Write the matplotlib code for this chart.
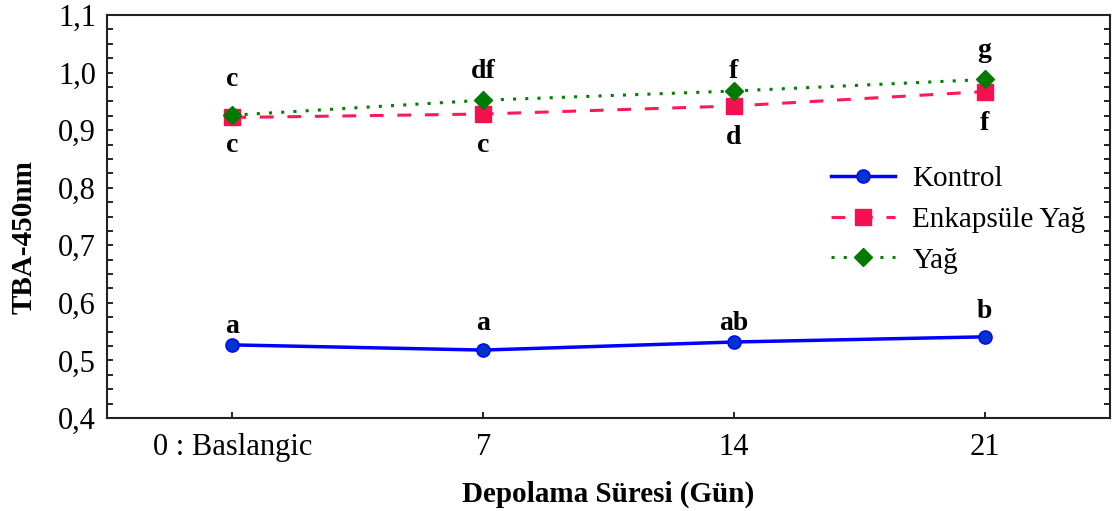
import numpy as np
import matplotlib
matplotlib.use("Agg")
import matplotlib.pyplot as plt
from matplotlib.ticker import MultipleLocator, FuncFormatter

plt.rcParams['font.family'] = ['Liberation Serif', 'DejaVu Serif']

# storage time groups and TBA absorbance values
days = ["0 : Baslangic", "7", "14", "21"]
kontrol = [0.527, 0.518, 0.532, 0.541]
enkapsule = [0.922, 0.928, 0.942, 0.967]
yag = [0.926, 0.952, 0.968, 0.988]

# significance letters for each group
kontrol_letters = ["a", "a", "ab", "b"]
enkapsule_letters = ["c", "c", "d", "f"]
yag_letters = ["c", "df", "f", "g"]

# letter offsets in pixels relative to the marker (baseline)
kontrol_off = [12, 20, 12, 19]
enkapsule_off = [-35, -38, -38, -38]
yag_off = [29, 22, 13, 22]

fig = plt.figure(figsize=(11.16, 5.11), dpi=100)
ax = fig.add_axes([0.0959, 0.182, 0.8987, 0.7886])

x = np.arange(len(days))
ax.plot(x, kontrol, color="#0000ff", lw=2.5, marker="o", ms=9.5,
        mfc="#0033cc", mec="#0000ff", label="Kontrol", zorder=3)
ax.plot(x, enkapsule, color="#ff1a55", lw=2.2, ls=(0, (4.5, 4.5)), marker="s",
        ms=11, mfc="#f5104f", mec="#f5104f", label="Enkapsüle Yağ", zorder=3)
ax.plot(x, yag, color="#008000", lw=2.2, ls=(0, (1, 3)), marker="D",
        ms=9.5, mfc="#007a00", mec="#007a00", label="Yağ", zorder=4)

for vals, letters, offs in [(kontrol, kontrol_letters, kontrol_off),
                            (enkapsule, enkapsule_letters, enkapsule_off),
                            (yag, yag_letters, yag_off)]:
    for xi, v, t, o in zip(x, vals, letters, offs):
        ax.annotate(t, (xi, v), xytext=(0, o), textcoords="offset pixels",
                    ha="center", va="baseline", fontsize=20,
                    fontweight="bold")

ax.set_xlim(-0.5, 3.5)
ax.set_ylim(0.4, 1.1)
ax.set_xticks(x)
ax.set_xticklabels(days)
ax.yaxis.set_major_locator(MultipleLocator(0.1))
ax.yaxis.set_minor_locator(MultipleLocator(0.025))
ax.yaxis.set_major_formatter(FuncFormatter(lambda v, p: f"{v:.1f}".replace(".", ",")))

ax.tick_params(axis="y", which="both", direction="in", length=4, width=1.2,
               right=True, labelsize=22, pad=8)
ax.tick_params(axis="x", direction="in", length=4, width=1.2, labelsize=22,
               pad=11)
for s in ax.spines.values():
    s.set_linewidth(1.5)
    s.set_color("#222222")

ax.set_xlabel("Depolama Süresi (Gün)", fontsize=21, fontweight="bold",
              labelpad=13)
ax.set_ylabel("TBA-450nm", fontsize=21, fontweight="bold")
ax.yaxis.set_label_coords(-0.069, 0.45)

ax.legend(loc="upper left", bbox_to_anchor=(0.71, 0.655), frameon=False,
          fontsize=21, handlelength=2.2, handletextpad=0.6, labelspacing=0.49,
          borderaxespad=0)

fig.savefig("out.png", dpi=100)
